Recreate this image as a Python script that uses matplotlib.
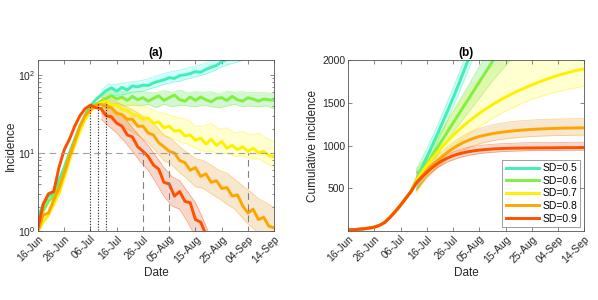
import numpy as np
import matplotlib
matplotlib.use("Agg")
import matplotlib.pyplot as plt
from matplotlib.ticker import LogLocator, NullFormatter

plt.rcParams['font.family'] = ['Liberation Sans', 'DejaVu Sans']

# ==========================
# DATA
# ==========================
start = np.datetime64('2020-06-16')
tick_labels = ['16-Jun', '26-Jun', '06-Jul', '16-Jul', '26-Jul',
               '05-Aug', '15-Aug', '25-Aug', '04-Sep', '14-Sep']
sd_labels = ['SD=0.5', 'SD=0.6', 'SD=0.7', 'SD=0.8', 'SD=0.9']
line_colors = ['#40F0B0', '#80F040', '#FFF000', '#FFA500', '#FF5000']
band_colors = ['#40FFFF', '#50E050', '#FFFF40', '#E0A040', '#E06030']

# day offsets from 16-Jun
days = np.arange(0, 91, 2)
band_days_a = np.arange(24, 91, 3)
band_days_b = np.arange(26, 91, 4)

# (a) daily incidence, every 2 days
inc_05 = [1.5, 2.2, 2.8, 3.0, 4.5, 6.5, 10, 15, 22, 31, 40, 48, 55, 63,
          68, 62, 69, 64, 72, 70, 74, 73, 79, 83, 86, 92, 90, 98, 100, 104,
          110, 108, 118, 125, 132, 147, 158, 165, 172, 182, 192, 202, 212, 224,
          236, 248]
inc_06 = [1.2, 1.8, 2.4, 2.8, 3.8, 6, 9.5, 14, 21, 29, 36, 42, 46, 50,
          54, 49, 52, 47, 53, 48, 51, 46, 50, 54, 47, 51, 55, 48, 46, 52,
          47, 52, 48, 45, 50, 51, 47, 53, 48, 46, 51, 49, 46, 49, 48, 47]
inc_07 = [1.0, 1.3, 1.6, 2.2, 3.0, 4.8, 8, 12.5, 19, 27, 34, 40, 44, 46,
          41, 41, 36, 35, 31, 30, 27, 28, 24, 25, 21, 22, 19, 19.5, 16.5, 17,
          14.5, 15.5, 13, 15, 12.5, 14, 11.5, 12.5, 11, 12, 10.5, 11.5, 10, 10.5,
          9.2, 9.0]
inc_08 = [1.0, 1.6, 1.7, 2.5, 3.5, 5.5, 9, 14, 22, 30, 36, 41, 42,
          39, 38, 32, 31, 27, 27, 22, 22, 18, 17, 13.5, 12, 10.5, 10, 8, 7.5,
          6, 6.5, 5, 5.4, 4.2, 4.4, 3.5, 3.6, 2.8, 2.9, 2.1, 1.7, 1.9, 1.4,
          1.5, 1.15, 1.1]
inc_09 = [1.1, 2.2, 3.0, 3.2, 6.5, 11, 15, 22, 30, 37, 41,
          38, 37, 30, 29, 24, 22, 17, 16, 12, 10.5, 9, 7, 6.2, 4.2, 4.0,
          2.8, 3.2, 2.4, 2.3, 1.4, 1.3, 0.9, 0.5,
          0.4, 0.4, 0.4, 0.4, 0.4, 0.4, 0.4, 0.4, 0.4, 0.4, 0.4, 0.4]

# (a) 95% bands, every 3 days from 10-Jul
lo_a_05 = [47, 54, 55, 56, 60, 61, 65, 70, 75, 80, 83, 89, 94, 100, 109, 122,
           134, 143, 153, 166, 179, 194, 211]
hi_a_05 = [64, 76, 76, 78, 82, 84, 89, 97, 104, 110, 115, 123, 129, 138, 150,
           168, 185, 197, 211, 228, 246, 267, 290]
lo_a_06 = [38, 41, 43, 40, 41, 40, 42, 38, 42, 39, 41, 40, 39, 41, 39, 38, 40,
           42, 39, 40, 39, 40, 37]
hi_a_06 = [56, 62, 63, 61, 60, 62, 60, 59, 63, 60, 64, 59, 61, 60, 61, 57, 62,
           60, 61, 59, 60, 59, 58]
lo_a_07 = [35, 34, 31, 27, 24, 22, 20, 18, 16.5, 15.5, 14, 13, 11.5, 10.5, 10.5,
           9.7, 10, 9, 9.2, 8.3, 8.5, 7.4, 6.5]
hi_a_07 = [54, 56, 52, 48, 44, 41, 38, 34, 32, 30, 28, 27, 22, 22, 24, 20, 21,
           18, 19, 17, 18, 15.5, 14]
lo_a_08 = [32, 28, 24, 21, 18.5, 16, 13.5, 10.5, 8, 7, 5.6, 4.6, 3.7, 3.5, 3.0,
           2.6, 2.2, 1.9, 1.45, 1.15, 0.95, 0.85, 0.75]
hi_a_08 = [52, 50, 45, 40, 36, 31, 27, 22, 17, 15, 12, 10, 8.5, 8, 7, 6, 5.5,
           4.6, 3.8, 3.2, 2.6, 2.3, 2.0]
lo_a_09 = [27, 22, 18, 14, 10.5, 7.7, 6, 4.1, 2.8, 2.1, 1.9, 1.3, 0.85, 0.5,
           0.3, 0.3, 0.3, 0.3, 0.3, 0.3, 0.3, 0.3, 0.3]
hi_a_09 = [45, 41, 34, 28, 21, 16, 12.5, 9, 6.5, 5, 4.4, 3.2, 2.3, 1.4, 0.8,
           0.5, 0.5, 0.5, 0.5, 0.5, 0.5, 0.5, 0.5]

# dashed / dotted guides
dotted_days = [20, 23, 26]
dotted_tops = [41, 43, 45]
dashed_days = [40, 50, 80]
threshold = 10

# (b) cumulative incidence, every 2 days
early = [12, 15, 20, 26, 34, 45, 66, 100, 160, 228, 302, 382, 462]
cum_05 = early + [600, 730, 860, 995, 1130, 1268, 1410, 1555, 1705, 1860, 2020,
                  2190, 2370, 2555, 2750, 2950, 3160, 3380, 3610, 3850, 4100,
                  4370, 4660, 4970, 5300, 5640, 6000, 6380, 6780, 7200, 7640,
                  8110, 8600]
cum_06 = early + [590, 686, 782, 878, 974, 1070, 1166, 1262, 1358, 1454, 1550,
                  1646, 1742, 1838, 1934, 2030, 2126, 2222, 2318, 2414, 2510,
                  2606, 2702, 2798, 2894, 2990, 3086, 3182, 3278, 3374, 3470,
                  3566, 3662]
cum_07 = early + [590, 680, 765, 845, 920, 990, 1055, 1117, 1175, 1230, 1282,
                  1330, 1375, 1418, 1458, 1496, 1532, 1566, 1598, 1628, 1656,
                  1683, 1709, 1733, 1757, 1779, 1800, 1820, 1838, 1855, 1870,
                  1884, 1897]
cum_08 = early + [570, 640, 705, 765, 822, 875, 922, 965, 1003, 1036, 1063,
                  1086, 1105, 1120, 1133, 1144, 1153, 1161, 1168, 1174, 1179,
                  1184, 1188, 1191, 1194, 1197, 1199, 1201, 1203, 1204, 1205,
                  1206, 1207]
cum_09 = early + [560, 625, 685, 740, 785, 825, 855, 880, 900, 915, 928, 938,
                  946, 952, 957, 961, 964, 966, 968, 969, 970, 971, 971, 972,
                  972, 973, 973, 974, 974, 975, 975, 976, 976]

# (b) bands, every 4 days from 12-Jul
lo_b_05 = [500, 760, 1030, 1300, 1590, 1890, 2200, 2550, 2950, 3400, 3900,
           4450, 5050, 5700, 6400, 7150, 7950]
hi_b_05 = [720, 960, 1230, 1520, 1820, 2150, 2500, 2900, 3350, 3850, 4400,
           5000, 5650, 6350, 7100, 7900, 8750]
lo_b_06 = [470, 690, 880, 1060, 1230, 1390, 1550, 1710, 1860, 2000, 2150,
           2300, 2450, 2600, 2750, 2900, 3050]
hi_b_06 = [700, 880, 1080, 1290, 1500, 1710, 1920, 2130, 2340, 2550, 2760,
           2970, 3180, 3390, 3600, 3800, 4000]
lo_b_07 = [440, 640, 790, 920, 1030, 1130, 1220, 1300, 1370, 1430, 1490,
           1540, 1580, 1615, 1645, 1670, 1690]
hi_b_07 = [720, 900, 1100, 1300, 1480, 1640, 1780, 1900, 1990, 2060, 2120,
           2170, 2210, 2240, 2265, 2285, 2300]
lo_b_08 = [470, 620, 740, 840, 915, 975, 1020, 1050, 1070, 1085, 1097, 1105,
           1111, 1115, 1118, 1120, 1122]
hi_b_08 = [690, 770, 880, 990, 1080, 1150, 1200, 1235, 1260, 1278, 1290,
           1298, 1304, 1308, 1311, 1313, 1315]
lo_b_09 = [480, 640, 740, 810, 855, 885, 905, 918, 927, 933, 937, 940, 942,
           943, 944, 945, 945]
hi_b_09 = [680, 740, 830, 900, 948, 980, 1000, 1012, 1020, 1026, 1030, 1033,
           1035, 1036, 1037, 1038, 1039]

inc_series = [inc_05, inc_06, inc_07, inc_08, inc_09]
lo_a = [lo_a_05, lo_a_06, lo_a_07, lo_a_08, lo_a_09]
hi_a = [hi_a_05, hi_a_06, hi_a_07, hi_a_08, hi_a_09]
cum_series = [cum_05, cum_06, cum_07, cum_08, cum_09]
lo_b = [lo_b_05, lo_b_06, lo_b_07, lo_b_08, lo_b_09]
hi_b = [hi_b_05, hi_b_06, hi_b_07, hi_b_08, hi_b_09]


def to_dates(d):
    return (start + np.asarray(d).astype('timedelta64[D]')).astype('datetime64[ms]').astype(object)


tick_dates = to_dates(np.arange(0, 91, 10))
xlim = (tick_dates[0], tick_dates[-1])

# ==========================
# FIGURE
# ==========================
fig = plt.figure(figsize=(5.98, 3.0), dpi=100)
ax_a = fig.add_axes([0.0635, 0.23, 0.395, 0.57])
ax_b = fig.add_axes([0.582, 0.23, 0.395, 0.57])


def style_axis(ax):
    ax.set_xlim(xlim)
    ax.set_xticks(tick_dates)
    ax.set_xticklabels(tick_labels, rotation=45, ha='right',
                       rotation_mode='anchor', fontsize=7.5)
    ax.tick_params(direction='in', top=True, right=True, length=3,
                   width=0.5, color='#555555', labelcolor='#262626',
                   labelsize=7.5, pad=2)
    ax.tick_params(which='minor', direction='in', top=True, right=True,
                   length=1.8, width=0.5, color='#555555')
    for s in ax.spines.values():
        s.set_linewidth(0.6)
        s.set_color('#555555')
    ax.set_xlabel('Date', fontsize=8.5, labelpad=2, color='#262626')


# ---- (a) incidence ----
ax_a.set_yscale('log')
for i in range(5):
    ax_a.fill_between(to_dates(band_days_a), lo_a[i], hi_a[i],
                      color=band_colors[i], alpha=0.25, lw=0)
    ax_a.plot(to_dates(band_days_a), lo_a[i], color=line_colors[i], lw=0.5, alpha=0.5)
    ax_a.plot(to_dates(band_days_a), hi_a[i], color=line_colors[i], lw=0.5, alpha=0.5)
for i in range(5):
    ax_a.plot(to_dates(days), inc_series[i], color=line_colors[i], lw=2.1)

ax_a.axhline(threshold, color='#a0a0a0', ls=(0, (6, 4)), lw=0.8)
for d in dashed_days:
    ax_a.plot(to_dates([d, d]), [0.5, threshold], color='#808080',
              ls=(0, (6, 4)), lw=0.8)
for d, top in zip(dotted_days, dotted_tops):
    ax_a.plot(to_dates([d, d]), [0.5, top], color='#202020', ls=(0, (1, 1.5)), lw=0.8)

ax_a.set_ylim(1, 155)
ax_a.yaxis.set_major_locator(LogLocator(base=10, numticks=5))
ax_a.yaxis.set_minor_locator(LogLocator(base=10, subs=np.arange(2, 10), numticks=10))
ax_a.yaxis.set_minor_formatter(NullFormatter())
style_axis(ax_a)
ax_a.set_ylabel('Incidence', fontsize=8.5, labelpad=1, color='#262626')
ax_a.set_title('(a)', fontsize=8.5, fontweight='bold', pad=3)

# ---- (b) cumulative ----
for i in range(5):
    ax_b.fill_between(to_dates(band_days_b), lo_b[i], hi_b[i],
                      color=band_colors[i], alpha=0.25, lw=0)
    ax_b.plot(to_dates(band_days_b), lo_b[i], color=line_colors[i], lw=0.5, alpha=0.5)
    ax_b.plot(to_dates(band_days_b), hi_b[i], color=line_colors[i], lw=0.5, alpha=0.5)
handles = []
for i in range(5):
    h, = ax_b.plot(to_dates(days), cum_series[i], color=line_colors[i],
                   lw=2.1, label=sd_labels[i])
    handles.append(h)

ax_b.set_ylim(0, 2000)
ax_b.set_yticks([500, 1000, 1500, 2000])
style_axis(ax_b)
ax_b.set_ylabel('Cumulative incidence', fontsize=8.5, labelpad=2, color='#262626')
ax_b.set_title('(b)', fontsize=8.5, fontweight='bold', pad=3)

leg = ax_b.legend(handles=handles, loc='lower right', fontsize=7.5,
                  frameon=True, fancybox=False, edgecolor='#555555',
                  handlelength=3.2, handletextpad=0.3, borderpad=0.3,
                  labelspacing=0.25, borderaxespad=0.4)
leg.get_frame().set_linewidth(0.5)

fig.savefig('out.png', dpi=100)
